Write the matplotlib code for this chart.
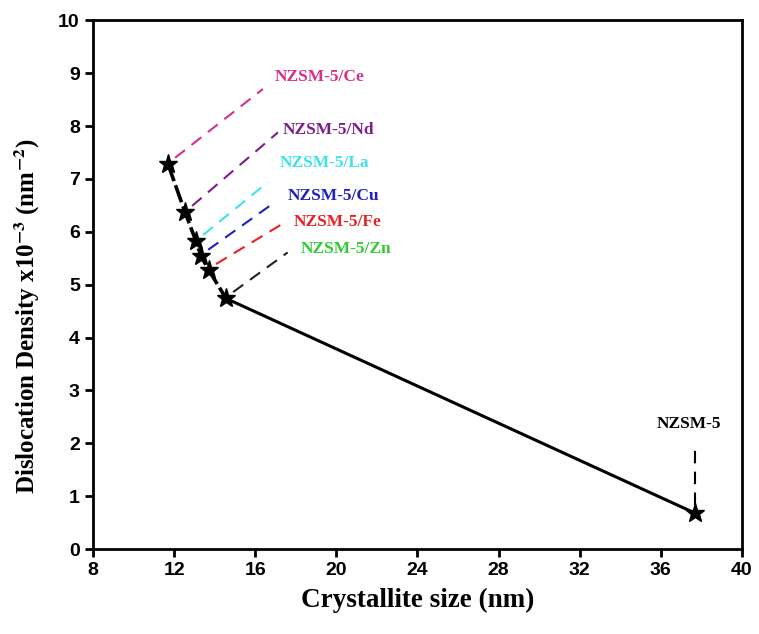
import matplotlib.pyplot as plt
import numpy as np

plt.rcParams["mathtext.fontset"] = "stix"

# crystallite size (nm) and dislocation density (x10^-3 nm^-2)
samples = ["NZSM-5/Ce", "NZSM-5/Nd", "NZSM-5/La", "NZSM-5/Cu", "NZSM-5/Fe", "NZSM-5/Zn", "NZSM-5"]
size_nm = [11.70, 12.54, 13.08, 13.33, 13.72, 14.56, 37.68]
density = [7.28, 6.37, 5.82, 5.54, 5.27, 4.74, 0.68]

text_colors = ["#d6308c", "#7a1f88", "#3fe3ea", "#2020c0", "#e82020", "#30cc30"]
lead_colors = ["#d6308c", "#7a1f88", "#3fe3ea", "#2020c0", "#e82020", "#222222"]
# where each leader line ends / label sits
lead_end_x = [16.38, 17.12, 16.63, 16.97, 17.47, 17.60]
lead_end_y = [8.70, 7.88, 6.94, 6.56, 6.18, 5.61]
label_x = [16.97, 17.37, 17.22, 17.62, 17.91, 18.26]
label_y = [8.92, 7.92, 7.30, 6.67, 6.18, 5.67]

serif = "Liberation Serif"
sans = "Liberation Sans"

fig = plt.figure(figsize=(7.59, 6.34), dpi=100)
ax = fig.add_axes([0.1225, 0.134, 0.855, 0.834])

# doped samples joined by a dashed line, then solid down to parent NZSM-5
ax.plot(size_nm[:6], density[:6], color="black", lw=2.6, ls=(0, (5, 1.2)))
ax.plot(size_nm[5:], density[5:], color="black", lw=2.2)
ax.plot(size_nm, density, ls="none", marker="*", ms=14, color="black")

for i in range(6):
    x0 = size_nm[i] + 0.35
    y0 = density[i] + 0.12
    ax.plot([x0, lead_end_x[i]], [y0, lead_end_y[i]], color=lead_colors[i],
            lw=1.5, ls=(0, (6, 4)))
    ax.text(label_x[i], label_y[i], samples[i], color=text_colors[i],
            fontfamily=serif, fontweight="bold", fontsize=12.5,
            ha="left", va="center")

ax.plot([size_nm[6], size_nm[6]], [density[6] + 0.15, 1.9], color="black",
        lw=1.5, ls=(0, (6, 4)))
ax.text(37.4, 2.36, samples[6], color="black", fontfamily=serif,
        fontweight="bold", fontsize=12.5, ha="center", va="center")

ax.set_xlim(8, 40)
ax.set_ylim(0, 10)
ax.set_xticks(np.arange(8, 41, 4))
ax.set_yticks(np.arange(0, 11, 1))
for s in ax.spines.values():
    s.set_linewidth(2)
ax.tick_params(direction="out", length=6, width=2, labelsize=14)
for lab in ax.get_xticklabels() + ax.get_yticklabels():
    lab.set_fontfamily(sans)
    lab.set_fontweight("bold")

ax.set_xlabel("Crystallite size (nm)", fontfamily=serif, fontweight="bold",
              fontsize=19.5, labelpad=6)
ax.set_ylabel("Dislocation Density x10$^{\\mathbf{-3}}$ (nm$^{\\mathbf{-2}}$)",
              fontfamily=serif, fontweight="bold", fontsize=18, va="center")
ax.yaxis.set_label_coords(-0.102, 0.44)

fig.savefig("out.png", dpi=100)
